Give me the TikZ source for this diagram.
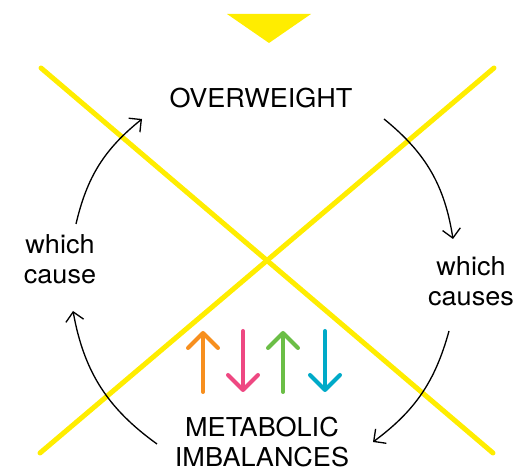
\documentclass[tikz,border=0pt]{standalone}
\usepackage{fontspec}
\setmainfont{TeX Gyre Heros}
\usetikzlibrary{arrows.meta}

\definecolor{gelb}{RGB}{255,237,0}
\definecolor{orangeton}{RGB}{247,143,30}
\definecolor{pinkton}{RGB}{238,72,130}
\definecolor{gruenton}{RGB}{107,190,70}
\definecolor{blauton}{RGB}{0,170,200}

\begin{document}
\begin{tikzpicture}[
    x=0.02cm, y=0.02cm,
    balken/.style={
      draw=gelb,
      line width=1mm,
      line cap=round},
    pfeil/.style={
      line width=0.75pt,
      -{Straight Barb[length=1.8mm,width=3.6mm]}},
    farbpfeil/.style={
      line width=0.8mm,
      line cap=round,
      -{Straight Barb[length=3mm,width=6mm,round]}},
    wort/.style={
      font=\fontsize{14.8pt}{17pt}\selectfont,
      align=center,
      inner sep=0pt,
      xscale=1.04}
    ]
  \useasboundingbox (0,0) rectangle (514,469);

  \fill[gelb] (227,455) -- (311,455) -- (269,426) -- cycle;

  \draw[balken] (41,401) -- (493,16);
  \draw[balken] (494,401) -- (40,16);

  \node at (261,361) (uebergewicht) [wort, anchor=base] {OVERWEIGHT};
  \node at (471,188) (rechts) [wort] {which\\causes};
  \node at (262,52) (stoffwechsel) [wort, anchor=north] {METABOLIC\\IMBALANCES};
  \node at (60,210) (links) [wort] {which\\cause};

  \coordinate (start1) at (76,245);
  \coordinate (ende1) at (142,350);
  \coordinate (start2) at (384,350);
  \coordinate (ende2) at (453,230);
  \coordinate (start3) at (449,138);
  \coordinate (ende3) at (373,27);
  \coordinate (start4) at (157,25);
  \coordinate (ende4) at (73,158);

  \draw [pfeil] (start1) to [bend left=19] (ende1);
  \draw [pfeil] (start2) to [bend left=21] (ende2);
  \draw [pfeil] (start3) to [bend left=19] (ende3);
  \draw [pfeil] (start4) to [bend left=22] (ende4);

  \foreach \x/\farbe/\von/\bis in {203/orangeton/77/138, 243/pinkton/138/77,
                                   283/gruenton/77/138, 325/blauton/138/77}
    \draw [farbpfeil, draw=\farbe] (\x,\von) -- (\x,\bis);

\end{tikzpicture}
\end{document}
